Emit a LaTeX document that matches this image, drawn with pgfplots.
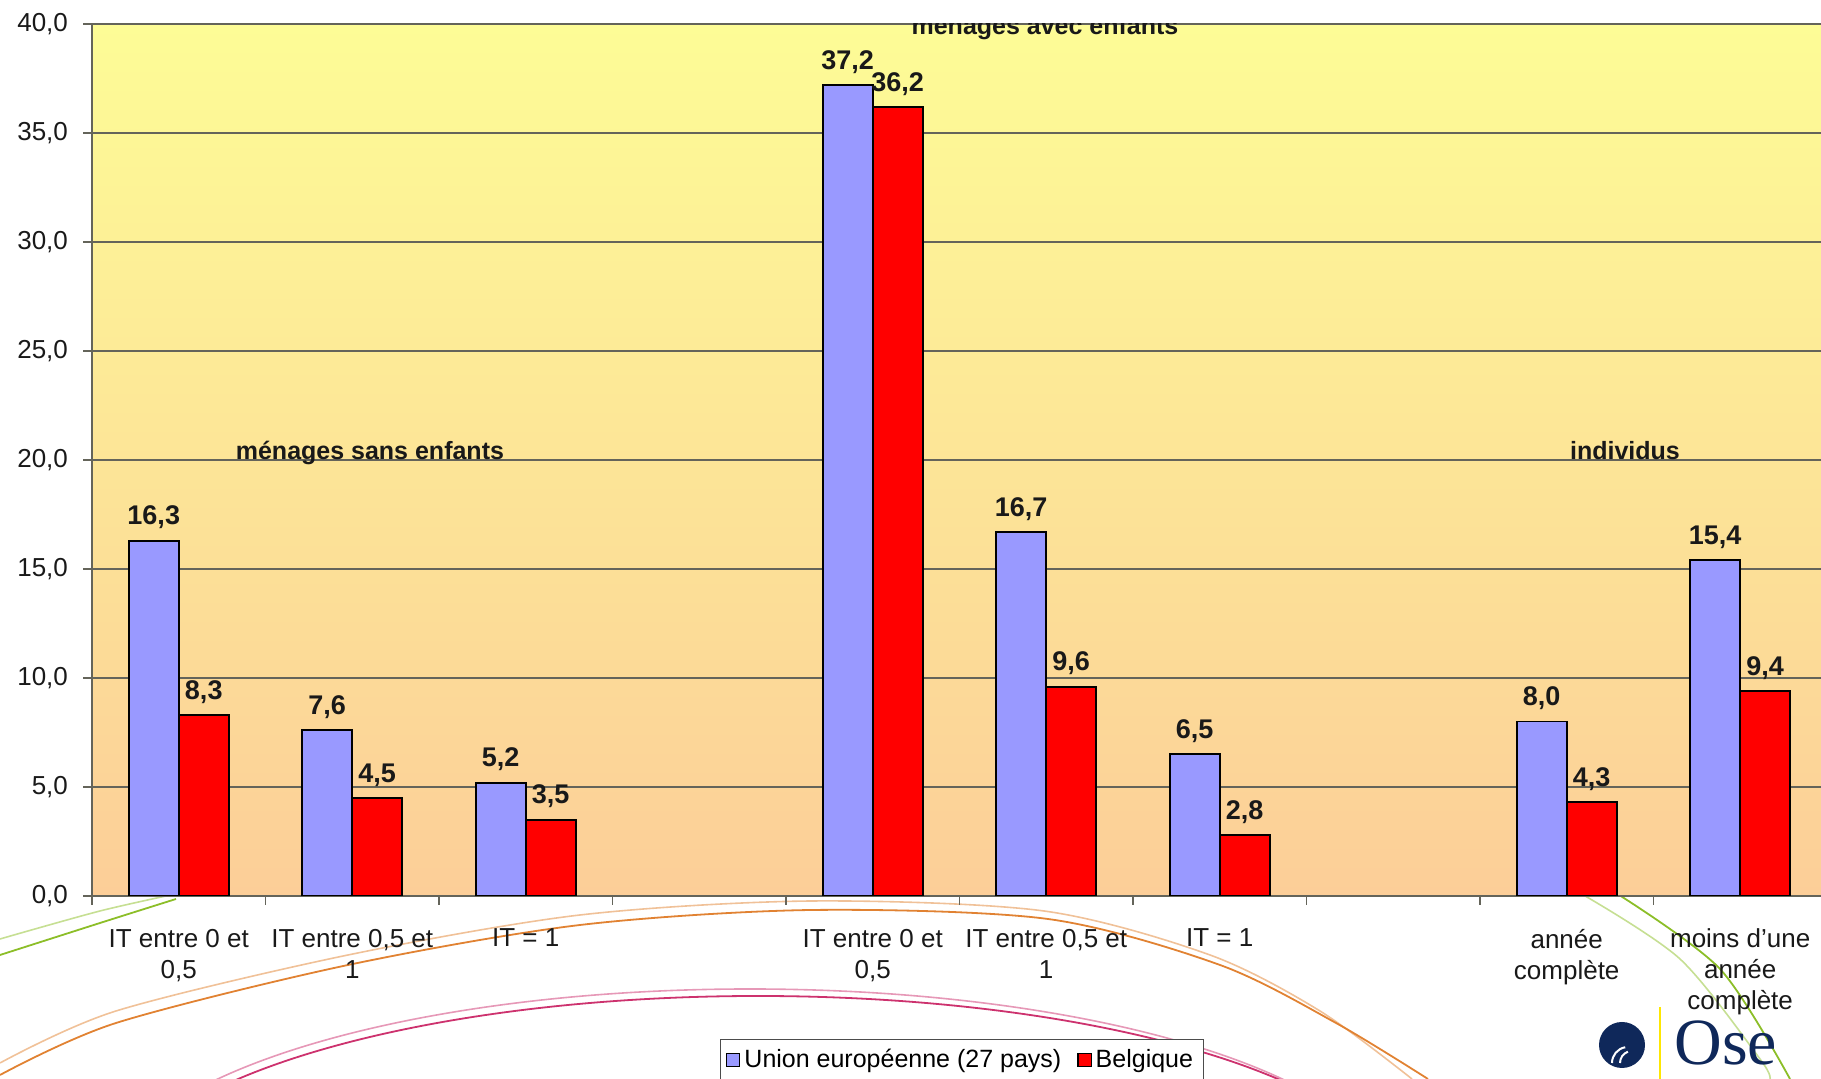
\documentclass[border=0pt]{standalone}
\usepackage{fontspec}
\setmainfont{Liberation Sans}
\newfontfamily\serifose{Liberation Serif}
\usepackage{pgfplots}
\pgfplotsset{compat=1.18}
\definecolor{barblue}{RGB}{153,153,255}
\definecolor{barred}{RGB}{255,0,0}
\definecolor{bgtop}{RGB}{253,252,150}
\definecolor{bgbottom}{RGB}{252,206,152}
\definecolor{gridc}{RGB}{100,100,90}
\definecolor{navy}{RGB}{15,40,90}
\definecolor{arcorange}{RGB}{225,130,50}
\definecolor{arcpink}{RGB}{205,50,110}
\definecolor{arcgreen}{RGB}{140,190,40}
\pgfplotsset{sqlegend/.style={legend image code/.code={\draw[##1,draw=black,line width=0.6pt] (0pt,-3.3pt) rectangle (6.6pt,3.3pt);}}}
\begin{document}
\begin{tikzpicture}
% decorative arcs below the plot
\begin{scope}
\clip (0pt,0pt) rectangle (910.5pt,91.5pt);
\draw[arcorange!50, line width=0.8pt] plot[smooth] coordinates {(0pt,8pt) (58pt,34pt) (174pt,62pt) (290pt,82pt) (406pt,89pt) (522pt,84pt) (605pt,62pt) (660pt,34pt) (706pt,0pt)};
\draw[arcorange, line width=0.9pt] plot[smooth] coordinates {(0pt,2pt) (58pt,28pt) (174pt,57pt) (290pt,77pt) (406pt,84.5pt) (524pt,80pt) (610pt,57pt) (668pt,28pt) (714pt,0pt)};
\draw[arcpink!50, line width=0.8pt] (375pt,-58pt) ellipse [x radius=322pt, y radius=103pt];
\draw[arcpink, line width=0.9pt] (379pt,-61.5pt) ellipse [x radius=324pt, y radius=103pt];
\draw[arcgreen!50, line width=0.8pt] plot[smooth] coordinates {(0pt,70pt) (50pt,84pt) (90pt,93pt)};
\draw[arcgreen, line width=0.9pt] plot[smooth] coordinates {(0pt,62pt) (50pt,78pt) (88pt,90pt)};
\draw[arcgreen!50, line width=0.8pt] plot[smooth] coordinates {(790pt,93pt) (840pt,60pt) (880pt,10pt) (885pt,0pt)};
\draw[arcgreen, line width=0.9pt] plot[smooth] coordinates {(808pt,93pt) (860pt,55pt) (895pt,0pt)};
\end{scope}
\begin{axis}[
  at={(46pt,91.5pt)}, anchor=south west,
  width=864.5pt, height=436pt, scale only axis,
  xmin=-0.5, xmax=9.466, ymin=0, ymax=40,
  axis lines=left, axis line style={-, gridc, line width=0.9pt},
  axis background/.style={top color=bgtop, bottom color=bgbottom},
  ymajorgrids, major grid style={gridc, line width=0.9pt},
  ytick={0,5,...,40},
  /pgf/number format/.cd, use comma, fixed, fixed zerofill, precision=1, assume math mode=true, /pgfplots/.cd,
  tick label style={font=\fontsize{13}{15.5}\selectfont, text=black!90},
  y tick label style={xshift=-4pt},
  x tick label style={align=center, yshift=-13pt},
  xtick={-0.5,0.5,...,8.5}, xticklabels={},
  extra x ticks={0,1,2,3,4,5,6,7,8,9},
  extra x tick labels={{IT entre 0 et\\0,5},{IT entre 0,5 et\\1},{IT = 1},{},{IT entre 0 et\\0,5},{IT entre 0,5 et\\1},{IT = 1},{},{année\\complète},{moins d'une\\année\\complète}},
  extra x tick style={major tick length=0pt, grid=none},
  tick align=outside, major tick length=4.5pt, tick style={gridc, line width=0.8pt},
  legend style={at={(0.363,-0.164)}, anchor=north west, legend columns=2, draw=black!70, fill=white,
    font=\fontsize{12.5}{15}\selectfont, inner sep=3pt,
    /tikz/every even column/.append style={column sep=6pt}},
  nodes near coords style={font=\bfseries\fontsize{13.5}{16}\selectfont, text=black!90, yshift=2pt},
]
\addplot[ybar, bar width=0.288, bar shift=-0.144, fill=barblue, draw=black, line width=0.9pt, nodes near coords,
  every node near coord/.append style={xshift=-12.5pt}, sqlegend]
  coordinates {(0,16.3) (1,7.6) (2,5.2) (4,37.2) (5,16.7) (6,6.5) (8,8.0) (9,15.4)};
\addlegendentry{Union européenne (27 pays)}
\addplot[ybar, bar width=0.288, bar shift=0.144, fill=barred, draw=black, line width=0.9pt, nodes near coords,
  every node near coord/.append style={xshift=12.5pt}, sqlegend]
  coordinates {(0,8.3) (1,4.5) (2,3.5) (4,36.2) (5,9.6) (6,2.8) (8,4.3) (9,9.4)};
\addlegendentry{Belgique}
\node[anchor=base, inner sep=0pt, font=\bfseries\fontsize{12.5}{15}\selectfont, text=black!90] at (axis cs:1.102,20) {ménages sans enfants};
\node[anchor=base, inner sep=0pt, font=\bfseries\fontsize{12.5}{15}\selectfont, text=black!90] at (axis cs:4.993,39.54) {ménages avec enfants};
\node[anchor=base, inner sep=0pt, font=\bfseries\fontsize{12.5}{15}\selectfont, text=black!90] at (axis cs:8.336,20) {individus};
\end{axis}
\fill[white] (440pt,528pt) rectangle (600pt,539.5pt);
% logo
\fill[navy] (811pt,17pt) circle (11.5pt);
\draw[white, line width=1pt] (806pt,8pt) arc[start angle=180, end angle=100, radius=8pt];
\draw[white, line width=1pt] (810pt,8pt) arc[start angle=180, end angle=110, radius=6pt];
\draw[yellow!90!orange, line width=1pt] (830pt,36pt) -- (830pt,0pt);
\node[anchor=base west, inner sep=0pt, text=navy, font=\serifose\fontsize{33}{33}\selectfont] at (837pt,7pt) {Ose};
\pgfresetboundingbox
\useasboundingbox (0pt,0pt) rectangle (910.5pt,539.5pt);
\end{tikzpicture}
\end{document}
